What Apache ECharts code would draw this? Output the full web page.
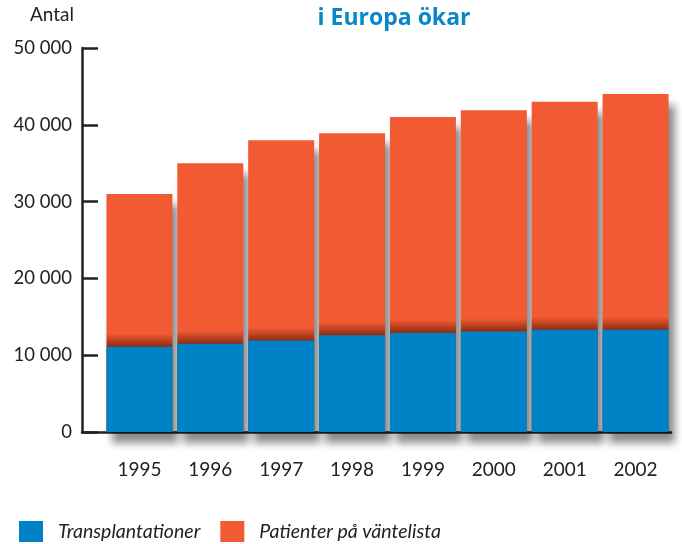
<!DOCTYPE html>
<html>
<head>
<meta charset="utf-8">
<script src="https://cdn.jsdelivr.net/npm/echarts@6/dist/echarts.min.js"></script>
<style>html,body{margin:0;padding:0;background:#fff}#c{width:682px;height:544px}</style>
</head>
<body>
<div id="c"></div>
<script>
var years = ['1995','1996','1997','1998','1999','2000','2001','2002'];
var transplantationer = [11100, 11500, 11900, 12600, 12900, 13100, 13300, 13300];
var vantelista = [31000, 35000, 38000, 38900, 41000, 41900, 43000, 44000];
var yTicks = [0, 10000, 20000, 30000, 40000, 50000];

var BLUE = '#0083C6', ORANGE = '#F15A33', BROWN = '#8E2C12';
var FONT = 'Lato, "Open Sans", sans-serif';

function fmt(v){ return v === 0 ? '0' : String(v).replace(/\B(?=(\d{3})+(?!\d))/g, ' '); }

var orangeData = vantelista.map(function(t, i){
  var o1 = 1 - transplantationer[i] / t;
  var band = 1700 / t;
  return {
    value: t,
    itemStyle: {
      color: new echarts.graphic.LinearGradient(0, 0, 0, 1, [
        {offset: 0, color: ORANGE},
        {offset: Math.max(0, o1 - band), color: ORANGE},
        {offset: o1, color: BROWN},
        {offset: 1, color: BROWN}
      ])
    }
  };
});

var chart = echarts.init(document.getElementById('c'), null, {renderer: 'canvas'});
chart.setOption({
  animation: false,
  backgroundColor: '#fff',
  textStyle: {fontFamily: FONT},
  title: {
    text: 'i Europa ökar', left: 389, top: 2, textAlign: 'center',
    textStyle: {color: '#0A86C8', fontSize: 23, fontWeight: 'bold', fontFamily: '"Open Sans", Lato, sans-serif'}
  },
  graphic: [{
    type: 'text', left: 30, top: 5,
    style: {text: 'Antal', fontSize: 19, fill: '#222', fontFamily: FONT}
  }],
  legend: {
    left: 19, top: 521, padding: 0, itemWidth: 24, itemHeight: 21, itemGap: 20,
    icon: 'rect',
    textStyle: {fontSize: 19.5, fontStyle: 'italic', color: '#222', fontFamily: FONT, padding: [0,0,0,10]},
    data: ['Transplantationer', 'Patienter på väntelista']
  },
  grid: [
    {left: 104, width: 567, top: 48, height: 384},
    {left: 82, width: 589, top: 48, height: 384}
  ],
  xAxis: [
    {type: 'category', gridIndex: 0, data: years,
     axisLine: {show: false}, axisTick: {show: false},
     axisLabel: {fontSize: 19, color: '#222', margin: 28, fontFamily: FONT}},
    {type: 'value', gridIndex: 1, min: 0, max: 1,
     axisLine: {show: true, lineStyle: {color: '#222', width: 2.5}},
     axisTick: {show: false}, axisLabel: {show: false}, splitLine: {show: false}}
  ],
  yAxis: [
    {type: 'value', gridIndex: 0, min: yTicks[0], max: yTicks[yTicks.length-1], interval: 10000,
     offset: 22,
     axisLine: {show: true, lineStyle: {color: '#222', width: 2.5}},
     axisTick: {show: true, inside: true, length: 16, lineStyle: {color: '#222', width: 2.5}},
     axisLabel: {fontSize: 18.5, color: '#222', margin: 10, formatter: fmt, fontFamily: FONT},
     splitLine: {show: false}},
    {type: 'value', gridIndex: 1, show: false, min: 0, max: 1}
  ],
  series: [
    {name: 'Patienter på väntelista', type: 'bar', xAxisIndex: 0, yAxisIndex: 0,
     data: orangeData, barWidth: 66, barGap: '-100%', z: 2, color: ORANGE,
     itemStyle: {color: ORANGE, shadowColor: 'rgba(0,0,0,0.45)', shadowBlur: 8, shadowOffsetX: 6, shadowOffsetY: 11}},
    {name: 'Transplantationer', type: 'bar', xAxisIndex: 0, yAxisIndex: 0,
     data: transplantationer, barWidth: 66, barGap: '-100%', z: 3, color: BLUE,
     itemStyle: {color: BLUE}}
  ]
});
</script>
</body>
</html>
